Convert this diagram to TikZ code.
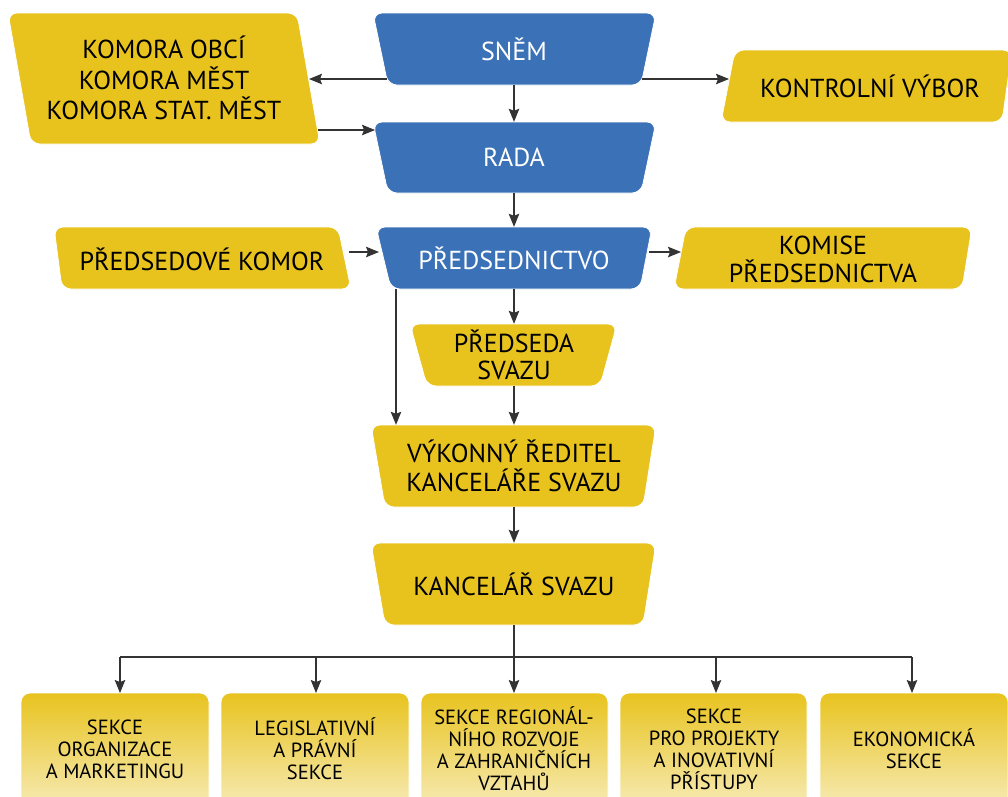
\documentclass[tikz,border=0pt]{standalone}
\usepackage{fontspec}
\setmainfont{PT Sans}
\usetikzlibrary{arrows.meta,calc}
\definecolor{ybox}{HTML}{E8C31E}
\definecolor{bbox}{HTML}{3B71B6}
\definecolor{ypale}{HTML}{F8EFC6}
\begin{document}
\begin{tikzpicture}[x=1pt,y=-1pt]
\tikzset{
  yshape/.style={fill=ybox, draw=white, line width=0.8pt, rounded corners=9pt},
  bshape/.style={fill=bbox, draw=white, line width=0.8pt, rounded corners=9pt},
  sshape/.style={top color=ybox, bottom color=ypale, draw=white, line width=0.8pt, rounded corners=9pt},
  lbl/.style={inner sep=0pt, align=center, font=\fontsize{26}{29}\selectfont},
  wlbl/.style={lbl, text=white},
  slbl/.style={inner sep=0pt, align=center, font=\fontsize{20.5}{22}\selectfont},
  conn/.style={draw=black!80, line width=1.1pt, -{Stealth[length=13pt,width=10.5pt,inset=2pt]}},
  plain/.style={draw=black!80, line width=1.1pt}
}
\clip (0,0) rectangle (1008,796);
\fill[white] (0,0) rectangle (1008,796);

% ---------- shapes ----------
\path[bshape] (373,13) -- (656,13) -- (641,85) -- (388,85) -- cycle;
\path[bshape] (373,122) -- (656,122) -- (641,193) -- (388,193) -- cycle;
\path[yshape] (8,13) -- (297,13) -- (320,144) -- (31,144) -- cycle;
\path[yshape] (735,50) -- (1012,50) -- (1002,122) -- (721,122) -- cycle;
\path[bshape] (376,227) -- (652,227) -- (640,289) -- (391,289) -- cycle;
\path[yshape] (54,227) -- (338,227) -- (351,289) -- (62,289) -- cycle;
\path[yshape] (686,227) -- (972,227) -- (962,289) -- (674,289) -- cycle;
\path[yshape] (410,324) -- (617,324) -- (600,386) -- (427,386) -- cycle;
\path[yshape] (371,425) -- (656,425) -- (643,507) -- (385,507) -- cycle;
\path[yshape] (371,543) -- (656,543) -- (643,625) -- (385,625) -- cycle;

\path[sshape] (21,820) -- (21,693) -- (209,693) -- (209,820) -- cycle;
\path[sshape] (221,820) -- (221,693) -- (409,693) -- (409,820) -- cycle;
\path[sshape] (421,820) -- (421,693) -- (608,693) -- (608,820) -- cycle;
\path[sshape] (620,820) -- (620,693) -- (807,693) -- (807,820) -- cycle;
\path[sshape] (820,820) -- (820,693) -- (1008,693) -- (1008,820) -- cycle;

% ---------- labels (named nodes) ----------
\node[wlbl, minimum width=284pt, minimum height=72pt] (snem) at (514,49) {SNĚM};
\node[wlbl, minimum width=284pt, minimum height=71pt] (rada) at (514,157.5) {RADA};
\node[wlbl, minimum width=276pt, minimum height=62pt] (pred) at (514,258) {PŘEDSEDNICTVO};
\node[lbl, font=\fontsize{26}{27}\selectfont, minimum width=207pt, minimum height=62pt] (predseda) at (514,355) {PŘEDSEDA\\SVAZU};
\node[lbl, minimum width=285pt, minimum height=82pt] (vykonny) at (514,466) {VÝKONNÝ ŘEDITEL\\KANCELÁŘE SVAZU};
\node[lbl, minimum width=285pt, minimum height=82pt] (kancelar) at (514,584) {KANCELÁŘ SVAZU};
\node[lbl, font=\fontsize{26}{30.5}\selectfont] (komora) at (164,78) {KOMORA OBCÍ\\KOMORA MĚST\\KOMORA STAT. MĚST};
\node[lbl] (kontrol) at (870,86) {KONTROLNÍ VÝBOR};
\node[lbl] (pkomor) at (202,259) {PŘEDSEDOVÉ KOMOR};
\node[lbl, font=\fontsize{26}{28}\selectfont] (komise) at (823,259) {KOMISE\\PŘEDSEDNICTVA};

\node[slbl] (s1) at (115,749) {SEKCE\\ORGANIZACE\\A MARKETINGU};
\node[slbl] (s2) at (315,749) {LEGISLATIVNÍ\\A PRÁVNÍ\\SEKCE};
\node[slbl] (s3) at (514,749) {SEKCE REGIONÁL-\\NÍHO ROZVOJE\\A ZAHRANIČNÍCH\\VZTAHŮ};
\node[slbl] (s4) at (714,749) {SEKCE\\PRO PROJEKTY\\A INOVATIVNÍ\\PŘÍSTUPY};
\node[slbl] (s5) at (914,749) {EKONOMICKÁ\\SEKCE};

% ---------- edge points ----------
\coordinate (snemL) at (387,79);
\coordinate (snemR) at (642,79);
\coordinate (komoraIn) at (309,79);
\coordinate (kontrolIn) at (729,79);
\coordinate (komoraOut) at (318,130);
\coordinate (radaIn) at (375,130);
\coordinate (pkOut) at (349,252);
\coordinate (pIn) at (379,252);
\coordinate (pOut) at (649,252);
\coordinate (komiseIn) at (681,252);
\coordinate (pLeft) at (396,289);
\coordinate (bus) at (514,657);
\coordinate (s1in) at (120,693);
\coordinate (s2in) at (316,693);
\coordinate (s3in) at (514,693);
\coordinate (s4in) at (716,693);
\coordinate (s5in) at (912,693);

% ---------- connectors ----------
\draw[conn] (snemL) -- (komoraIn);
\draw[conn] (snemR) -- (kontrolIn);
\draw[conn] (komoraOut) -- (radaIn);
\draw[conn] (snem.south) -- (rada.north);
\draw[conn] (rada.south) -- (pred.north);
\draw[conn] (pkOut) -- (pIn);
\draw[conn] (pOut) -- (komiseIn);
\draw[conn] (pLeft) -- (pLeft |- vykonny.north);
\draw[conn] (pred.south) -- (predseda.north);
\draw[conn] (predseda.south) -- (vykonny.north);
\draw[conn] (vykonny.south) -- (kancelar.north);

\draw[plain] (kancelar.south) -- (bus);
\draw[plain] (bus -| s1in) -- (bus -| s5in);
\draw[conn] (bus -| s1in) -- (s1in);
\draw[conn] (bus -| s2in) -- (s2in);
\draw[conn] (bus) -- (s3in);
\draw[conn] (bus -| s4in) -- (s4in);
\draw[conn] (bus -| s5in) -- (s5in);
\end{tikzpicture}
\end{document}
